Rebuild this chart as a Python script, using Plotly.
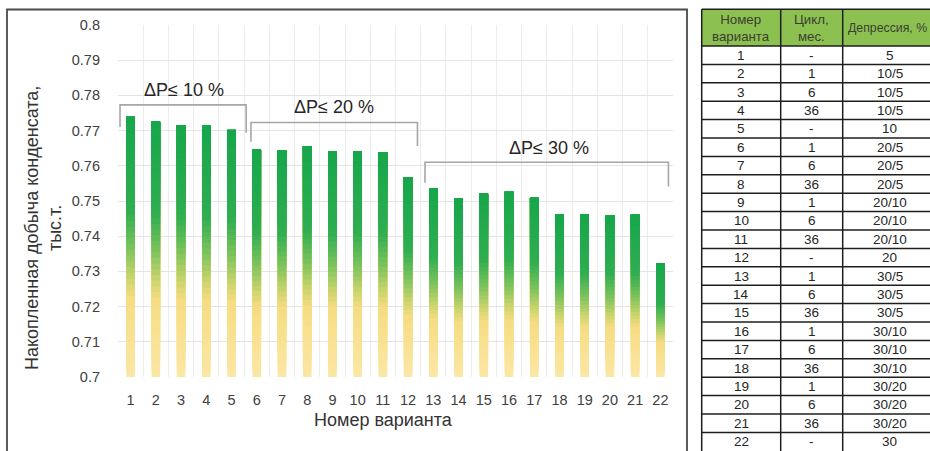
import plotly.graph_objects as go
from plotly.colors import sample_colorscale

# ---------------- data ----------------
variants = [str(i) for i in range(1, 23)]
production = [0.7739, 0.7725, 0.7716, 0.7714, 0.7702, 0.7647, 0.7643, 0.7656,
              0.7641, 0.7641, 0.7639, 0.7567, 0.7537, 0.7507, 0.7521, 0.7526,
              0.7509, 0.7461, 0.7463, 0.7460, 0.7461, 0.7323]
cycle = ["-", "1", "6", "36", "-", "1", "6", "36", "1", "6", "36", "-",
         "1", "6", "36", "1", "6", "36", "1", "6", "36", "-"]
depression = ["5", "10/5", "10/5", "10/5", "10", "20/5", "20/5", "20/5",
              "20/10", "20/10", "20/10", "20", "30/5", "30/5", "30/5",
              "30/10", "30/10", "30/10", "30/20", "30/20", "30/20", "30"]
y_tickvals = [0.70, 0.71, 0.72, 0.73, 0.74, 0.75, 0.76, 0.77, 0.78, 0.79, 0.80]
y_ticktext = ["0.7", "0.71", "0.72", "0.73", "0.74", "0.75", "0.76", "0.77",
              "0.78", "0.79", "0.8"]
table_header = ["Номер<br>варианта", "Цикл,<br>мес.", "Депрессия, %"]
group_labels = ["ΔP≤ 10 %", "ΔP≤ 20 %", "ΔP≤ 30 %"]
x_title = "Номер варианта"
y_title = "Накопленная добыча конденсата,<br>тыс.т."

# ---------------- styling ----------------
W, H = 930, 451
FONT = "Liberation Sans, Arial, sans-serif"
Y_MIN = 0.7


def pxx(x):
    return x / W


def pxy(y):
    return 1 - y / H


gradient = [[0.0, "#fbe7a4"], [0.30, "#f6dc82"], [0.38, "#c8d46c"],
            [0.50, "#78c25b"], [0.64, "#2fae50"], [1.0, "#17a64b"]]
N_LAYERS = 45
layer_colors = sample_colorscale(gradient, [k / (N_LAYERS - 1) for k in range(N_LAYERS)])

fig = go.Figure()

# gradient bars: overlaid layers, each from a fraction of the bar height up to its top
for k in range(N_LAYERS):
    frac = k / N_LAYERS
    bases = [Y_MIN + (v - Y_MIN) * frac for v in production]
    heights = [v - b for v, b in zip(production, bases)]
    fig.add_trace(go.Bar(
        x=variants, y=heights, base=bases,
        marker=dict(color=layer_colors[k], line=dict(width=0)),
        width=0.34, showlegend=False, hoverinfo="skip",
    ))

shapes = []
annotations = []

# brackets (group decorations) in category-index / value coordinates
bracket_color = "#a6a6a6"
brackets = [
    (-0.42, 4.58, 0.7773, 0.7710, 0.7694),
    (4.77, 11.37, 0.7723, 0.7668, 0.7656),
    (11.67, 21.32, 0.7610, 0.7552, 0.7541),
]
for x0, x1, ytop, yl, yr in brackets:
    shapes.append(dict(type="path", xref="x", yref="y",
                       path=f"M {x0},{yl} L {x0},{ytop} L {x1},{ytop} L {x1},{yr}",
                       line=dict(color=bracket_color, width=1.6)))
label_pos = [(2.13, 0.7815), (8.07, 0.7767), (16.6, 0.7651)]
for (lx, ly), txt in zip(label_pos, group_labels):
    annotations.append(dict(x=lx, y=ly, xref="x", yref="y", text=txt, showarrow=False,
                            xanchor="center", yanchor="middle",
                            font=dict(family=FONT, size=18, color="#262626")))

# chart panel border (left, top, right sides; bottom is off the picture)
bx0, bx1, by = pxx(7), pxx(687), pxy(9.5)
shapes.append(dict(type="path", xref="paper", yref="paper",
                   path=f"M {bx0},0 L {bx0},{by} L {bx1},{by} L {bx1},0",
                   line=dict(color="#4a4a4a", width=1.8), layer="below"))

# axis titles
annotations.append(dict(x=pxx(383), y=pxy(420), xref="paper", yref="paper", text=x_title,
                        showarrow=False, xanchor="center", yanchor="middle",
                        font=dict(family=FONT, size=18, color="#333333")))
annotations.append(dict(x=pxx(44), y=pxy(228), xref="paper", yref="paper", text=y_title,
                        textangle=-90, showarrow=False, xanchor="center", yanchor="middle",
                        font=dict(family=FONT, size=18, color="#333333")))

# ---------------- table (drawn in figure pixels) ----------------
col_edges = [701.7, 780.7, 842.7]
tab_right = 930.0
col_centers = [741.2, 811.7, 887.5]
header_sizes = [13.3, 13.3, 12.3]
tab_top, head_bot, row_h = 9.3, 46.0, 18.4
n_rows = len(variants)
line_c = "#1e1e1e"

shapes.append(dict(type="rect", xref="paper", yref="paper",
                   x0=pxx(col_edges[0]), x1=pxx(tab_right),
                   y0=pxy(head_bot), y1=pxy(tab_top),
                   fillcolor="#8cc152", line=dict(width=0), layer="below"))
for ye in [tab_top, head_bot] + [head_bot + row_h * (i + 1) for i in range(n_rows - 1)]:
    shapes.append(dict(type="line", xref="paper", yref="paper",
                       x0=pxx(col_edges[0]), x1=pxx(tab_right), y0=pxy(ye), y1=pxy(ye),
                       line=dict(color=line_c, width=1.5)))
for xe in col_edges:
    shapes.append(dict(type="line", xref="paper", yref="paper",
                       x0=pxx(xe), x1=pxx(xe), y0=0, y1=pxy(tab_top),
                       line=dict(color=line_c, width=1.5)))

for cx, txt, fs in zip(col_centers, table_header, header_sizes):
    annotations.append(dict(x=pxx(cx), y=pxy((tab_top + head_bot) / 2), xref="paper",
                            yref="paper", text=txt, showarrow=False,
                            xanchor="center", yanchor="middle",
                            font=dict(family=FONT, size=fs, color="#3a4030")))
cell_centers = [741.2, 811.7, 889.5]
for ci, col in enumerate([variants, cycle, depression]):
    for ri, txt in enumerate(col):
        annotations.append(dict(x=pxx(cell_centers[ci]), y=pxy(head_bot + row_h * (ri + 0.5)),
                                xref="paper", yref="paper", text=txt, showarrow=False,
                                xanchor="center", yanchor="middle",
                                font=dict(family=FONT, size=13.5, color="#262626")))

fig.update_layout(
    width=W, height=H,
    margin=dict(l=0, r=0, t=0, b=0, autoexpand=False),
    paper_bgcolor="white", plot_bgcolor="white",
    barmode="overlay",
    showlegend=False,
    font=dict(family=FONT, color="#404040"),
    xaxis=dict(domain=[pxx(118), pxx(673)], type="category", tickson="boundaries",
               automargin=False,
               showgrid=True, gridcolor="#ececec", gridwidth=1, ticks="",
               showline=False, zeroline=False, ticklabelstandoff=12,
               tickfont=dict(family=FONT, size=14.5, color="#404040")),
    yaxis=dict(domain=[pxy(377), pxy(25)], range=[0.7, 0.8], automargin=False,
               tickvals=y_tickvals, ticktext=y_ticktext,
               showgrid=True, gridcolor="#e4e4e4", gridwidth=1, ticks="",
               showline=False, zeroline=False, ticklabelstandoff=17,
               tickfont=dict(family=FONT, size=14.5, color="#404040")),
    shapes=shapes,
    annotations=annotations,
)

fig.write_html("out.html", config={"displayModeBar": False},
               post_script="document.body.style.margin='0';")
